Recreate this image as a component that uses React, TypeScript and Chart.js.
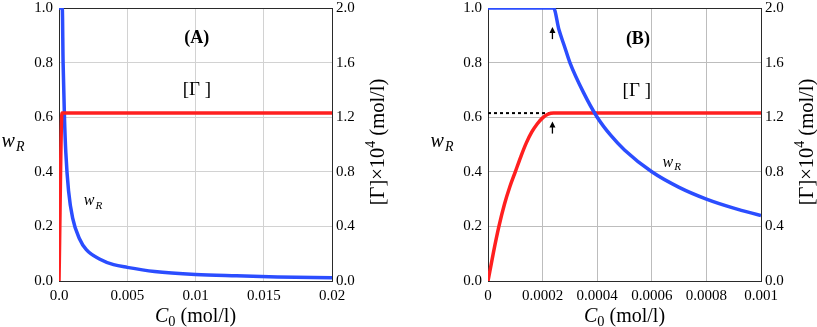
import React, { useEffect, useRef } from "react";
import { Chart, registerables } from "chart.js";

Chart.register(...registerables);

const FONT = '"Liberation Serif", "Times New Roman", "DejaVu Serif", serif';
const BLUE = "#2b4dff";
const RED = "#ff1f1f";

// ---------- axis ticks ----------
const wTicks = [0, 0.2, 0.4, 0.6, 0.8, 1.0];
const wTickLabels = ["0.0", "0.2", "0.4", "0.6", "0.8", "1.0"];
const gTicks = [0, 0.4, 0.8, 1.2, 1.6, 2.0];
const gTickLabels = ["0.0", "0.4", "0.8", "1.2", "1.6", "2.0"];

const xTicksA = [0, 0.005, 0.01, 0.015, 0.02];
const xTickLabelsA = ["0.0", "0.005", "0.01", "0.015", "0.02"];
const xTicksB = [0, 0.0002, 0.0004, 0.0006, 0.0008, 0.001];
const xTickLabelsB = ["0", "0.0002", "0.0004", "0.0006", "0.0008", "0.001"];

// ---------- panel A data ----------
const c0A_w = [0, 0.00024, 0.0003, 0.0004, 0.0005, 0.0007, 0.001, 0.0015, 0.002, 0.003, 0.004, 0.005, 0.007, 0.01, 0.013, 0.016, 0.02];
const wA = [1.0, 1.0, 0.8, 0.6, 0.47, 0.33, 0.23, 0.155, 0.115, 0.08, 0.06, 0.05, 0.035, 0.024, 0.019, 0.015, 0.012];
const c0A_g = [0, 0.00022, 0.02];
const gA = [0, 1.23, 1.23];

// ---------- panel B data ----------
const c0B_w = [0, 0.00024, 0.00026, 0.00028, 0.0003, 0.00035, 0.0004, 0.00045, 0.0005, 0.0006, 0.0007, 0.0008, 0.0009, 0.001];
const wB = [1.0, 1.0, 0.92, 0.86, 0.8, 0.69, 0.6, 0.533, 0.48, 0.4, 0.343, 0.3, 0.267, 0.24];
const c0B_g = [0, 0.00002, 0.00004, 0.00006, 0.00008, 0.0001, 0.00012, 0.00014, 0.00016, 0.00018, 0.0002, 0.00022, 0.00024, 0.001];
const gB = [0, 0.21, 0.4, 0.56, 0.69, 0.8, 0.91, 1.01, 1.09, 1.15, 1.195, 1.222, 1.23, 1.23];
const c0B_dot = [0, 0.00023];
const gB_dot = [1.23, 1.23];

const pts = (xs: number[], ys: number[]) => xs.map((x, i) => ({ x, y: ys[i] }));

function drawWR(ctx: CanvasRenderingContext2D, cx: number, cy: number, size: number) {
  const sub = size * 0.7;
  ctx.font = `italic ${size}px ${FONT}`;
  const wW = ctx.measureText("w").width;
  ctx.font = `italic ${sub}px ${FONT}`;
  const rW = ctx.measureText("R").width;
  const total = wW + rW + 1;
  const x = cx - total / 2;
  const base = cy + size * 0.22;
  ctx.textAlign = "left";
  ctx.textBaseline = "alphabetic";
  ctx.font = `italic ${size}px ${FONT}`;
  ctx.fillText("w", x, base);
  ctx.font = `italic ${sub}px ${FONT}`;
  ctx.fillText("R", x + wW + 1, base + size * 0.2);
}

function drawXTitle(ctx: CanvasRenderingContext2D, cx: number, base: number, size: number) {
  const sub = size * 0.72;
  ctx.font = `italic ${size}px ${FONT}`;
  const cW = ctx.measureText("C").width;
  ctx.font = `${sub}px ${FONT}`;
  const zW = ctx.measureText("0").width;
  ctx.font = `${size}px ${FONT}`;
  const rest = " (mol/l)";
  const rW = ctx.measureText(rest).width;
  const total = cW + zW + rW;
  let x = cx - total / 2;
  ctx.textAlign = "left";
  ctx.textBaseline = "alphabetic";
  ctx.font = `italic ${size}px ${FONT}`;
  ctx.fillText("C", x, base);
  x += cW;
  ctx.font = `${sub}px ${FONT}`;
  ctx.fillText("0", x, base + size * 0.2);
  x += zW;
  ctx.font = `${size}px ${FONT}`;
  ctx.fillText(rest, x, base);
}

function drawRightTitle(ctx: CanvasRenderingContext2D, bx: number, cy: number, size: number) {
  ctx.save();
  ctx.translate(bx, cy);
  ctx.rotate(-Math.PI / 2);
  const sup = size * 0.68;
  ctx.font = `${size}px ${FONT}`;
  const a = "[\u0393]\u00d710";
  const aW = ctx.measureText(a).width;
  const b = " (mol/l)";
  const bW = ctx.measureText(b).width;
  ctx.font = `${sup}px ${FONT}`;
  const sW = ctx.measureText("4").width;
  const total = aW + sW + bW;
  let x = -total / 2;
  ctx.textAlign = "left";
  ctx.textBaseline = "alphabetic";
  ctx.font = `${size}px ${FONT}`;
  ctx.fillText(a, x, 0);
  x += aW;
  ctx.font = `${sup}px ${FONT}`;
  ctx.fillText("4", x, -size * 0.42);
  x += sW;
  ctx.font = `${size}px ${FONT}`;
  ctx.fillText(b, x, 0);
  ctx.restore();
}

type Spec = {
  xMax: number;
  xTicks: number[];
  xTickLabels: string[];
  leftW: number;
  rightW: number;
  gridColor: string;
  lineWidth: number;
  blueX: number[];
  blueY: number[];
  redX: number[];
  redY: number[];
  dotX?: number[];
  dotY?: number[];
  blueOnTop: boolean;
  panelLabel: string;
  panelPos: [number, number];
  gammaPos: [number, number];
  wPos: [number, number];
  leftTitleX: number;
  rightTitleX: number;
  arrows: { x: number; y0: number; y1: number }[];
};

const specA: Spec = {
  xMax: 0.02,
  xTicks: xTicksA,
  xTickLabels: xTickLabelsA,
  leftW: 59,
  rightW: 76,
  gridColor: "#d2d2d2",
  lineWidth: 3.5,
  blueX: c0A_w,
  blueY: wA,
  redX: c0A_g,
  redY: gA,
  blueOnTop: false,
  panelLabel: "(A)",
  panelPos: [0.0101, 0.89],
  gammaPos: [0.0101, 0.7],
  wPos: [0.0025, 0.29],
  leftTitleX: 13,
  rightTitleX: 384,
  arrows: [],
};

const specB: Spec = {
  xMax: 0.001,
  xTicks: xTicksB,
  xTickLabels: xTickLabelsB,
  leftW: 80,
  rightW: 56,
  gridColor: "#bdbdbd",
  lineWidth: 3.5,
  blueX: c0B_w,
  blueY: wB,
  redX: c0B_g,
  redY: gB,
  dotX: c0B_dot,
  dotY: gB_dot,
  blueOnTop: true,
  panelLabel: "(B)",
  panelPos: [0.000549, 0.885],
  gammaPos: [0.000545, 0.695],
  wPos: [0.000673, 0.43],
  leftTitleX: 34,
  rightTitleX: 405,
  arrows: [
    { x: 0.000236, y0: 0.886, y1: 0.93 },
    { x: 0.000236, y0: 0.54, y1: 0.584 },
  ],
};

function buildChart(canvas: HTMLCanvasElement, spec: Spec) {
  const tickFont = { family: FONT, size: 15 };
  const blue = {
    data: pts(spec.blueX, spec.blueY),
    yAxisID: "y",
    borderColor: BLUE,
    borderWidth: spec.lineWidth,
    pointRadius: 0,
    cubicInterpolationMode: "monotone" as const,
    fill: false,
  };
  const red = {
    data: pts(spec.redX, spec.redY),
    yAxisID: "y2",
    borderColor: RED,
    borderWidth: spec.lineWidth,
    pointRadius: 0,
    cubicInterpolationMode: "monotone" as const,
    fill: false,
  };
  const datasets: any[] = spec.blueOnTop ? [blue, red] : [red, blue];
  if (spec.dotX && spec.dotY) {
    datasets.push({
      data: pts(spec.dotX, spec.dotY),
      yAxisID: "y2",
      borderColor: "#000",
      borderWidth: 2,
      borderDash: [3, 3],
      pointRadius: 0,
      fill: false,
    });
  }

  const framePlugin = {
    id: "frame",
    beforeDatasetsDraw(chart: any) {
      const { ctx, chartArea: a } = chart;
      ctx.save();
      ctx.strokeStyle = "#2a2a2a";
      ctx.lineWidth = 1;
      ctx.strokeRect(Math.round(a.left) + 0.5, Math.round(a.top) + 0.5, Math.round(a.right - a.left), Math.round(a.bottom - a.top));
      ctx.restore();
    },
  };

  const textPlugin = {
    id: "texts",
    afterDraw(chart: any) {
      const { ctx, chartArea: a, scales } = chart;
      const sx = scales.x, sy = scales.y;
      ctx.save();
      ctx.fillStyle = "#000";
      ctx.font = `bold 18px ${FONT}`;
      ctx.textAlign = "center";
      ctx.textBaseline = "middle";
      ctx.fillText(spec.panelLabel, sx.getPixelForValue(spec.panelPos[0]), sy.getPixelForValue(spec.panelPos[1]));
      ctx.font = `19px ${FONT}`;
      ctx.fillText("[\u0393 ]", sx.getPixelForValue(spec.gammaPos[0]), sy.getPixelForValue(spec.gammaPos[1]));
      drawWR(ctx, sx.getPixelForValue(spec.wPos[0]), sy.getPixelForValue(spec.wPos[1]), 16);
      drawWR(ctx, spec.leftTitleX, 143, 20);
      drawRightTitle(ctx, spec.rightTitleX, 142, 20.5);
      drawXTitle(ctx, (a.left + a.right) / 2, 322, 20);
      ctx.strokeStyle = "#000";
      ctx.lineWidth = 1.3;
      for (const ar of spec.arrows) {
        const x = sx.getPixelForValue(ar.x);
        const y0 = sy.getPixelForValue(ar.y0);
        const y1 = sy.getPixelForValue(ar.y1);
        ctx.beginPath();
        ctx.moveTo(x, y0);
        ctx.lineTo(x, y1 + 4);
        ctx.stroke();
        ctx.beginPath();
        ctx.moveTo(x, y1);
        ctx.lineTo(x - 3, y1 + 6);
        ctx.lineTo(x + 3, y1 + 6);
        ctx.closePath();
        ctx.fill();
      }
      ctx.restore();
    },
  };

  return new Chart(canvas, {
    type: "line",
    data: { datasets },
    options: {
      responsive: false,
      animation: false,
      devicePixelRatio: 1,
      layout: { padding: { top: 8, left: 0, right: 0, bottom: 0 } },
      plugins: { legend: { display: false }, tooltip: { enabled: false } },
      scales: {
        x: {
          type: "linear",
          min: 0,
          max: spec.xMax,
          afterBuildTicks: (s: any) => {
            s.ticks = spec.xTicks.map((v) => ({ value: v }));
          },
          afterFit: (s: any) => {
            s.height = 46;
            s.paddingLeft = 0;
            s.paddingRight = 0;
            s.paddingTop = 0;
            s.paddingBottom = 0;
          },
          ticks: {
            callback: (_v: any, i: number) => spec.xTickLabels[i],
            font: tickFont,
            color: "#000",
            padding: 6,
            maxRotation: 0,
            autoSkip: false,
          },
          grid: { color: spec.gridColor, drawTicks: false, lineWidth: 1 },
          border: { display: false },
        },
        y: {
          type: "linear",
          position: "left",
          min: 0,
          max: 1,
          afterBuildTicks: (s: any) => {
            s.ticks = wTicks.map((v) => ({ value: v }));
          },
          afterFit: (s: any) => {
            s.width = spec.leftW;
            s.paddingTop = 0;
            s.paddingBottom = 0;
            s.paddingLeft = 0;
            s.paddingRight = 0;
          },
          ticks: {
            callback: (_v: any, i: number) => wTickLabels[i],
            font: tickFont,
            color: "#000",
            padding: 6,
          },
          grid: { color: spec.gridColor, drawTicks: false, lineWidth: 1 },
          border: { display: false },
        },
        y2: {
          type: "linear",
          position: "right",
          min: 0,
          max: 2,
          afterBuildTicks: (s: any) => {
            s.ticks = gTicks.map((v) => ({ value: v }));
          },
          afterFit: (s: any) => {
            s.width = spec.rightW;
            s.paddingTop = 0;
            s.paddingBottom = 0;
            s.paddingLeft = 0;
            s.paddingRight = 0;
          },
          ticks: {
            callback: (_v: any, i: number) => gTickLabels[i],
            font: tickFont,
            color: "#000",
            padding: 4,
          },
          grid: { display: false, drawTicks: false },
          border: { display: false },
        },
      },
    } as any,
    plugins: [framePlugin, textPlugin],
  });
}

function Panel({ spec, left, width }: { spec: Spec; left: number; width: number }) {
  const ref = useRef<HTMLCanvasElement | null>(null);
  useEffect(() => {
    let chart: Chart | null = null;
    let dead = false;
    const make = () => {
      if (dead || chart) return;
      chart = buildChart(ref.current!, spec);
    };
    const fonts = [`15px ${FONT}`, `italic 15px ${FONT}`, `bold 15px ${FONT}`];
    try {
      Promise.all(fonts.map((f) => (document as any).fonts.load(f))).then(make, make);
    } catch (e) {
      make();
    }
    return () => {
      dead = true;
      if (chart) chart.destroy();
    };
  }, []);
  return (
    <canvas
      ref={ref}
      width={width}
      height={327}
      style={{ position: "absolute", left, top: 0, width, height: 327 }}
    />
  );
}

export default function App() {
  return (
    <div style={{ position: "absolute", left: 0, top: 0, width: 817, height: 327, background: "#fff" }}>
      <Panel spec={specA} left={0} width={408} />
      <Panel spec={specB} left={408} width={409} />
    </div>
  );
}
